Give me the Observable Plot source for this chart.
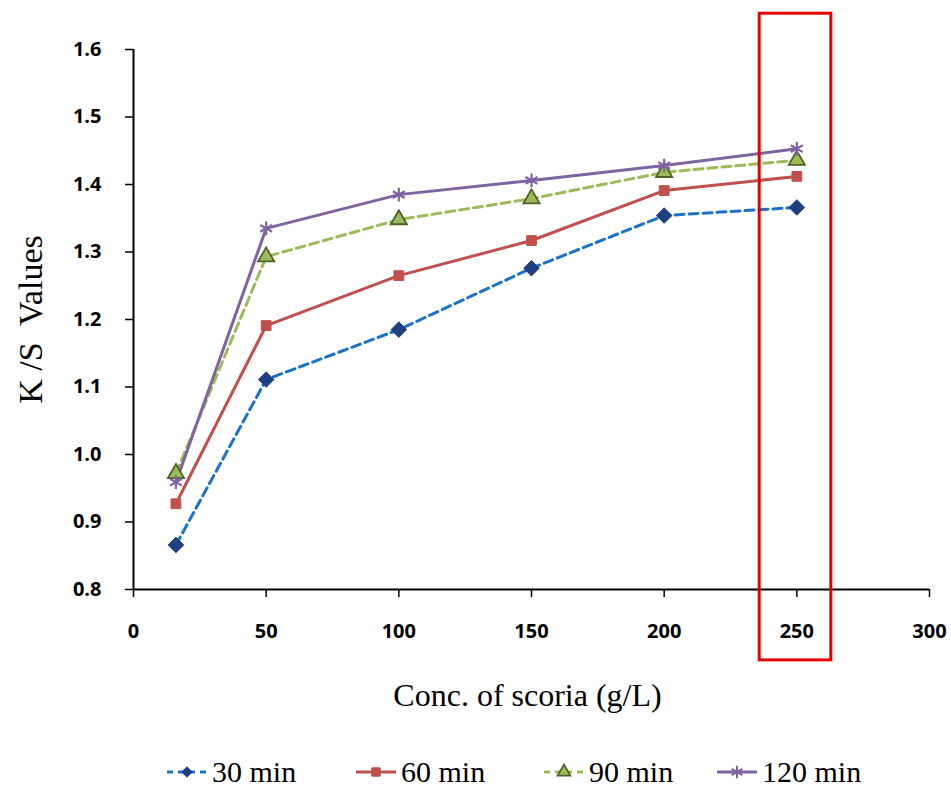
<!DOCTYPE html>
<html>
<head>
<meta charset="utf-8">
<script src="https://cdn.jsdelivr.net/npm/d3@7"></script>
<script src="https://cdn.jsdelivr.net/npm/@observablehq/plot@0.6"></script>
<style>
  body { margin: 0; background: #fff; }
  #chart { width: 951px; }
  #chart svg.plot { display: block; }
  #legend { position: relative; width: 951px; height: 36px; margin-top: 4px;
            font-family: "Liberation Serif", serif; font-size: 30px; color: #000; }
  .item { position: absolute; top: 0; display: flex; align-items: center; height: 36px; white-space: nowrap; }
  .item svg { margin-right: 4px; display: block; }
</style>
</head>
<body>
<div id="chart"></div>
<div id="legend"></div>
<script>
// ---- data ----
const concentrations = [16, 50, 100, 150, 200, 250];
const ks30  = [0.866, 1.111, 1.185, 1.276, 1.354, 1.366];
const ks60  = [0.927, 1.191, 1.265, 1.317, 1.391, 1.412];
const ks90  = [0.972, 1.293, 1.348, 1.379, 1.418, 1.436];
const ks120 = [0.959, 1.335, 1.385, 1.406, 1.428, 1.453];
const seriesNames = ["30 min", "60 min", "90 min", "120 min"];
const xTicks = [0, 50, 100, 150, 200, 250, 300];
const yTicks = [0.8, 0.9, 1.0, 1.1, 1.2, 1.3, 1.4, 1.5, 1.6];
const highlightX = [236, 263];
const highlightY = [0.695, 1.653];

// ---- styles ----
const styles = {
  "30 min":  {line: "#1a73c8", dash: "9,5", symbol: "diamond2", fill: "#1f3f80", stroke: "#1f3f80", r: 7, sw: 1},
  "60 min":  {line: "#c0504d", dash: null,  symbol: "square",  fill: "#c0504d", stroke: "#c0504d", r: 5.5, sw: 1},
  "90 min":  {line: "#9bbb59", dash: "9,5", symbol: "triangle", fill: "#9bbb59", stroke: "#4f6228", r: 6, sw: 1.8},
  "120 min": {line: "#8064a2", dash: null,  symbol: "asterisk", fill: "none", stroke: "#8064a2", r: 6.5, sw: 2.2}
};

const allSeries = [ks30, ks60, ks90, ks120];
const rows = [];
seriesNames.forEach((name, i) => {
  concentrations.forEach((c, j) => rows.push({series: name, x: c, y: allSeries[i][j]}));
});
const highlight = [{x1: highlightX[0], x2: highlightX[1], y1: highlightY[0], y2: highlightY[1]}];

const marks = [
  Plot.ruleX([0], {stroke: "#000", strokeWidth: 2}),
  Plot.ruleY([0.8], {stroke: "#000", strokeWidth: 2}),
  Plot.axisY({ticks: yTicks, tickFormat: d3.format(".1f"), tickSize: 8, tickPadding: 24,
              fontWeight: "bold", fontSize: 20, fontFamily: "Open Sans", label: null, strokeWidth: 1.5}),
  Plot.axisX({ticks: xTicks, tickFormat: d3.format("d"), tickSize: 8, tickPadding: 26,
              fontWeight: "bold", fontSize: 20, fontFamily: "Open Sans", label: null, strokeWidth: 1.5})
];
seriesNames.forEach(name => {
  const s = styles[name];
  const d = rows.filter(r => r.series === name);
  marks.push(Plot.line(d, {x: "x", y: "y", stroke: s.line, strokeWidth: 3, strokeDasharray: s.dash}));
});
seriesNames.forEach(name => {
  const s = styles[name];
  const d = rows.filter(r => r.series === name);
  marks.push(Plot.dot(d, {x: "x", y: "y", symbol: () => s.symbol, r: s.r, fill: s.fill,
                          stroke: s.stroke, strokeWidth: s.sw}));
});
marks.push(Plot.rect(highlight, {x1: "x1", x2: "x2", y1: "y1", y2: "y2", fill: "none",
                                 stroke: "#e50000", strokeWidth: 3}));
marks.push(Plot.text(["Conc. of scoria (g/L)"], {frameAnchor: "bottom", dy: 116, text: d => d,
                     fontFamily: "Liberation Serif", fontSize: 32, fill: "#000", dx: -4}));
marks.push(Plot.text(["K /S  Values"], {frameAnchor: "left", textAnchor: "middle", dx: -102, dy: 0, rotate: -90,
                     text: d => d, fontFamily: "Liberation Serif", fontSize: 34, fill: "#000"}));

const plot = Plot.plot({
  width: 951,
  height: 750,
  marginLeft: 133,
  marginRight: 22,
  marginTop: 49,
  marginBottom: 161,
  x: {domain: [0, 300]},
  y: {domain: [0.8, 1.6]},
  style: {background: "#fff", overflow: "visible", color: "#000"},
  marks
});
document.getElementById("chart").appendChild(plot);

// ---- legend ----
try {
  const legend = document.getElementById("legend");
  const lefts = [166, 355, 543, 716];
  seriesNames.forEach((name, i) => {
    const s = styles[name];
    const item = document.createElement("div");
    item.className = "item";
    item.style.left = lefts[i] + "px";
    const sw = d3.create("svg").attr("width", 42).attr("height", 20);
    sw.append("line").attr("x1", 1).attr("x2", 41).attr("y1", 10).attr("y2", 10)
      .attr("stroke", s.line).attr("stroke-width", 3).attr("stroke-dasharray", s.dash ? "6,5" : "none");
    const symMap = {diamond2: d3.symbolDiamond2 || d3.symbolDiamond, square: d3.symbolSquare,
                    triangle: d3.symbolTriangle, asterisk: d3.symbolAsterisk || d3.symbolCross};
    sw.append("path").attr("transform", "translate(21,10)")
      .attr("d", d3.symbol().type(symMap[s.symbol]).size(s.symbol === "asterisk" ? 110 : 70)())
      .attr("fill", s.fill).attr("stroke", s.stroke).attr("stroke-width", s.sw);
    item.appendChild(sw.node());
    const t = document.createElement("span");
    t.textContent = name;
    item.appendChild(t);
    legend.appendChild(item);
  });
} catch (e) {
  document.getElementById("legend").textContent = "ERR " + e.message;
}
</script>
</body>
</html>
